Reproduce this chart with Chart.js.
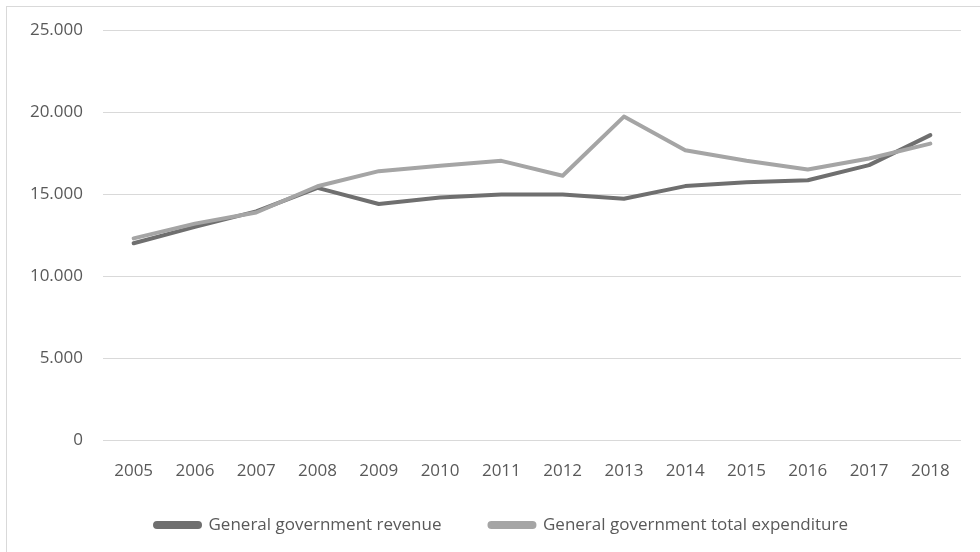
<!DOCTYPE html>
<html>
<head>
<meta charset="utf-8">
<script src="https://cdn.jsdelivr.net/npm/chart.js@4.4.0/dist/chart.umd.min.js"></script>
<style>
  html, body { margin: 0; padding: 0; background: #fff; }
  #wrap { position: relative; width: 980px; height: 552px; overflow: hidden; }
  #frame { position: absolute; left: 6px; top: 6px; width: 1000px; height: 600px; border: 1px solid #d9d9d9; }
  #chart { position: absolute; left: 0; top: 0; }
</style>
</head>
<body>
<div id="wrap">
  <div id="frame"></div>
  <canvas id="chart" width="980" height="552"></canvas>
</div>
<script>
const years = ["2005", "2006", "2007", "2008", "2009", "2010", "2011", "2012", "2013", "2014", "2015", "2016", "2017", "2018"];
const revenue = [12000, 13000, 13950, 15380, 14400, 14800, 14980, 14980, 14720, 15490, 15730, 15850, 16770, 18600];
const expenditure = [12300, 13200, 13880, 15480, 16400, 16730, 17030, 16120, 19730, 17680, 17030, 16500, 17170, 18080];
const yMin = 0;
const yMax = 25000;
const yStep = 5000;

const fontFamily = "'Open Sans', sans-serif";
const fontSize = 17;
const textColor = "#595959";

// the legend sits lower and a bit right of where chart.js would put it
const legendPlace = {
  id: "legendPlace",
  afterLayout(chart) {
    const lg = chart.legend;
    const pad = lg.options.labels.padding;
    const dx = 501.5 - (lg.left + lg.right) / 2;
    lg.top = 525 - pad - fontSize / 2;
    lg.bottom = chart.height;
    lg.left += dx;
    lg.right += dx;
  },
};

const ctx = document.getElementById("chart").getContext("2d");
const chart = new Chart(ctx, {
  type: "line",
  data: {
    labels: years,
    datasets: [
      {
        label: "General government revenue",
        data: revenue,
        borderColor: "#6f6f6f",
        backgroundColor: "#6f6f6f",
        borderWidth: 4,
        pointRadius: 0,
        tension: 0,
        borderCapStyle: "round",
        borderJoinStyle: "round",
        order: 1,
      },
      {
        label: "General government total expenditure",
        data: expenditure,
        borderColor: "#a5a5a5",
        backgroundColor: "#a5a5a5",
        borderWidth: 4,
        pointRadius: 0,
        tension: 0,
        borderCapStyle: "round",
        borderJoinStyle: "round",
        order: 0,
      },
    ],
  },
  options: {
    responsive: false,
    animation: false,
    layout: {
      padding: { left: 30, right: 19, top: 30, bottom: 29.6 },
    },
    plugins: {
      tooltip: { enabled: false },
      legend: {
        position: "bottom",
        maxHeight: 20,
        labels: {
          sort: (a, b) => a.datasetIndex - b.datasetIndex,
          boxWidth: 45,
          boxHeight: 4,
          padding: 48,
          color: textColor,
          useBorderRadius: true,
          borderRadius: 2,
          font: { family: fontFamily, size: fontSize },
        },
      },
    },
    scales: {
      x: {
        offset: true,
        grid: { display: false, drawTicks: false },
        border: { display: false },
        ticks: {
          color: textColor,
          padding: 21,
          maxRotation: 0,
          autoSkip: false,
          font: { family: fontFamily, size: fontSize },
        },
      },
      y: {
        min: yMin,
        max: yMax,
        grid: { color: "#d9d9d9", lineWidth: 1, drawTicks: false },
        border: { display: false },
        ticks: {
          stepSize: yStep,
          color: textColor,
          padding: 20,
          font: { family: fontFamily, size: fontSize },
          callback: (v) => v.toLocaleString("de-DE"),
        },
        afterFit: (scale) => {
          scale.width = 73;
        },
      },
    },
  },
  plugins: [legendPlace],
});
</script>
</body>
</html>
